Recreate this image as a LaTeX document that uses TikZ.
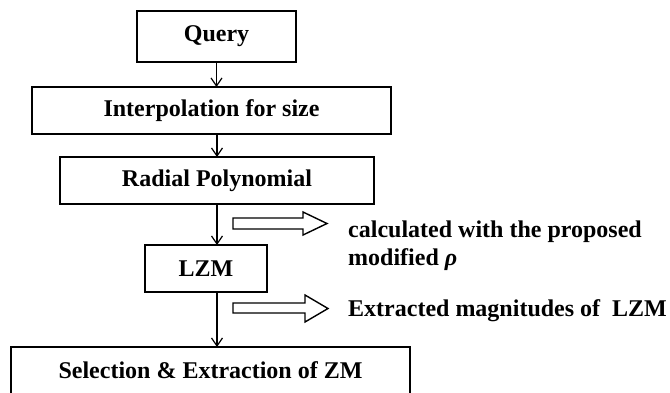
\documentclass[tikz,border=0pt]{standalone}
\usepackage{fontspec}
\setmainfont{Liberation Serif}
\usetikzlibrary{arrows.meta}
\begin{document}
\begin{tikzpicture}[x=1pt,y=-1pt,
  stepbox/.style={draw=black, line width=1.7pt, inner sep=0pt, outer sep=0pt,
    font=\fontsize{24}{28}\selectfont\bfseries},
  flow/.style={draw=black, line width=1.2pt, -{Straight Barb[length=8pt,width=11pt,line width=1.2pt]}},
  hollow/.style={draw=black, line width=1.4pt, fill=white, line join=miter},
  note/.style={inner sep=0pt, anchor=base west, font=\fontsize{24}{28}\selectfont\bfseries}]
\useasboundingbox (0,0) rectangle (670,392);

% processing stages
\node[stepbox, minimum width=159pt, minimum height=51pt] (query)  at (216.5,36.5) {Query};
\node[stepbox, minimum width=359pt, minimum height=47pt] (interp) at (211.5,110.5) {Interpolation for size};
\node[stepbox, minimum width=314pt, minimum height=47pt] (radial) at (217,180.5) {Radial Polynomial};
\node[stepbox, minimum width=122pt, minimum height=47pt] (lzm)    at (206,268.5) {LZM};
\node[stepbox, minimum width=399pt, minimum height=47pt] (sel)    at (210.5,370.5) {Selection \& Extraction of ZM};

% flow between stages
\draw[flow] (query.south) -- (query.south |- interp.north);
\draw[flow] (radial.north |- interp.south) -- (radial.north);
\draw[flow] (radial.south) -- (radial.south |- lzm.north);
\draw[flow] (radial.south |- lzm.south) -- (radial.south |- sel.north);

% side remarks with block arrows
\draw[hollow] (233,218) -- (303,218) -- (303,212) -- (327,223.5) -- (303,235) -- (303,229) -- (233,229) -- cycle;
\node[note] (calc1) at (348,237) {calculated with the proposed};
\node[note] (calc2) at (348,265) {modified \textit{ρ}};

\draw[hollow] (233,303) -- (305,303) -- (305,295) -- (328,308.5) -- (305,322) -- (305,313) -- (233,313) -- cycle;
\node[note] (extr) at (348,316) {Extracted magnitudes of\ \ LZM};
\end{tikzpicture}
\end{document}
